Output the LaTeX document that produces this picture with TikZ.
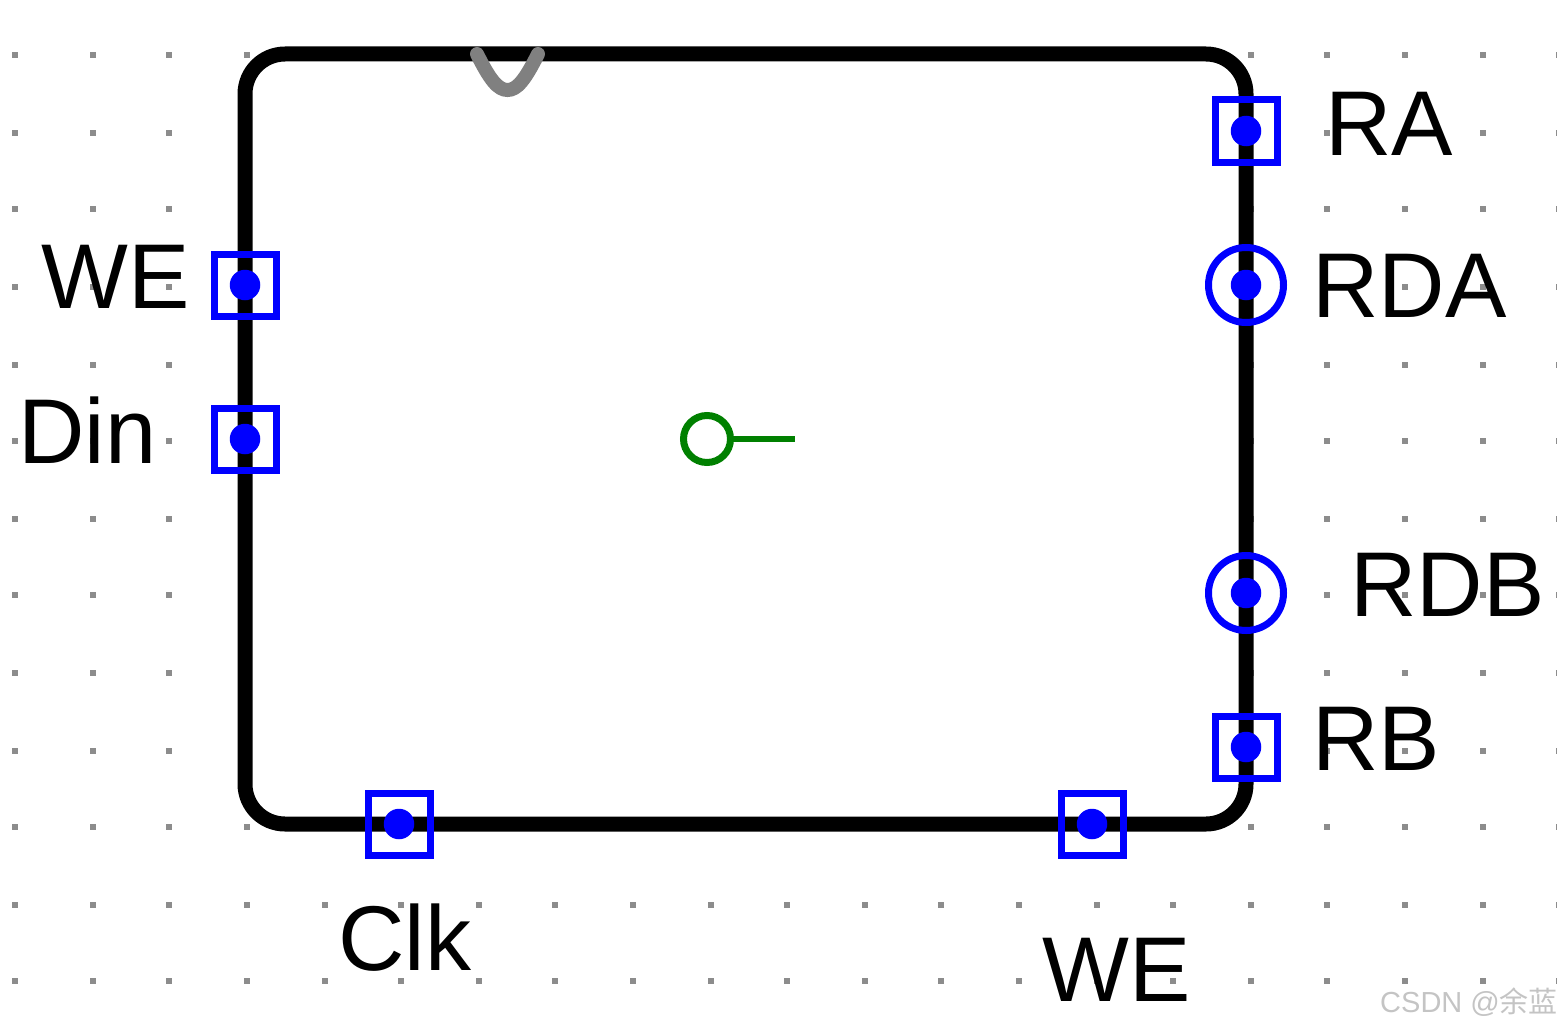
\documentclass[tikz,border=0pt]{standalone}
\usepackage{fontspec}
\setmainfont{Liberation Sans}
\newfontfamily\cjkwm{Noto Sans CJK SC}
\tikzset{
  griddot/.style={fill=gridgrey,draw=none,minimum size=6pt,inner sep=0pt,rectangle},
  bodybox/.style={draw=black,fill=white,line width=15pt,rounded corners=40pt,minimum width=1001pt,minimum height=770pt,inner sep=0pt,rectangle},
  sqport/.style={draw=blue,line width=7pt,minimum size=62pt,inner sep=0pt,rectangle},
  roundport/.style={draw=blue,line width=7pt,minimum size=75pt,inner sep=0pt,circle},
  portdot/.style={fill=blue,draw=none,minimum size=30.5pt,inner sep=0pt,circle},
  lbl/.style={font=\fontsize{92}{92}\selectfont,anchor=base west,inner sep=0pt,text=black},
  wmark/.style={font=\fontsize{29}{29}\selectfont,anchor=base west,inner sep=0pt,text=wmgrey},
  origin/.style={draw=pingreen,line width=7pt,minimum size=47pt,inner sep=0pt,circle},
  pinline/.style={draw=pingreen,line width=6pt},
  notch/.style={draw=notchgrey,line width=14pt,line cap=round}
}
\definecolor{gridgrey}{HTML}{8C8C8C}
\definecolor{notchgrey}{HTML}{808080}
\definecolor{pingreen}{HTML}{008000}
\definecolor{wmgrey}{HTML}{C4C4C4}
\begin{document}
\begin{tikzpicture}[x=1pt,y=-1pt]
\useasboundingbox (0,0) rectangle (1557,1030);
\foreach \px in {15,93,169,247,325,401,479,555,633,711,787,865,941,1019,1097,1173,1251,1327,1405,1483,1559}
  \foreach \py in {55,133,209,287,365,441,519,595,673,751,827,905,981}
    \node[griddot] at (\px,\py) {};
\node[bodybox] (body) at (745.5,439) {};
\coordinate (notchL) at (477,54);
\coordinate (notchR) at (538,54);
\draw[notch] (notchL) .. controls (490,80) and (498,90) .. (507.5,90) .. controls (517,90) and (525,80) .. (notchR);
% left ports
\node[sqport] (pWE) at (245,285) {};
\node[portdot] (dWE) at (245,285) {};
\node[sqport] (pDin) at (245,439) {};
\node[portdot] (dDin) at (245,439) {};
% bottom ports
\node[sqport] (pClk) at (399,824) {};
\node[portdot] (dClk) at (399,824) {};
\node[sqport] (pWEb) at (1092,824) {};
\node[portdot] (dWEb) at (1092,824) {};
% right ports
\node[sqport] (pRA) at (1246,131) {};
\node[portdot] (dRA) at (1246,131) {};
\node[roundport] (pRDA) at (1246,285) {};
\node[portdot] (dRDA) at (1246,285) {};
\node[roundport] (pRDB) at (1246,593) {};
\node[portdot] (dRDB) at (1246,593) {};
\node[sqport] (pRB) at (1246,747) {};
\node[portdot] (dRB) at (1246,747) {};
% origin marker
\node[origin] (org) at (707,439) {};
\coordinate (orgEnd) at (795,439);
\draw[pinline] (org.east) -- (orgEnd);
% labels
\node[lbl] (tWE) at (41,308) {WE};
\node[lbl] (tDin) at (18,463) {Din};
\node[lbl] (tClk) at (338,970) {Clk};
\node[lbl] (tWEb) at (1042,1001) {WE};
\node[lbl] (tRA) at (1325,155) {RA};
\node[lbl] (tRDA) at (1312,317) {RDA};
\node[lbl] (tRDB) at (1350,616) {RDB};
\node[lbl] (tRB) at (1312,770) {RB};
\node[wmark] (wm) at (1380,1012) {CSDN @{\cjkwm 余蓝}};
\end{tikzpicture}
\end{document}
